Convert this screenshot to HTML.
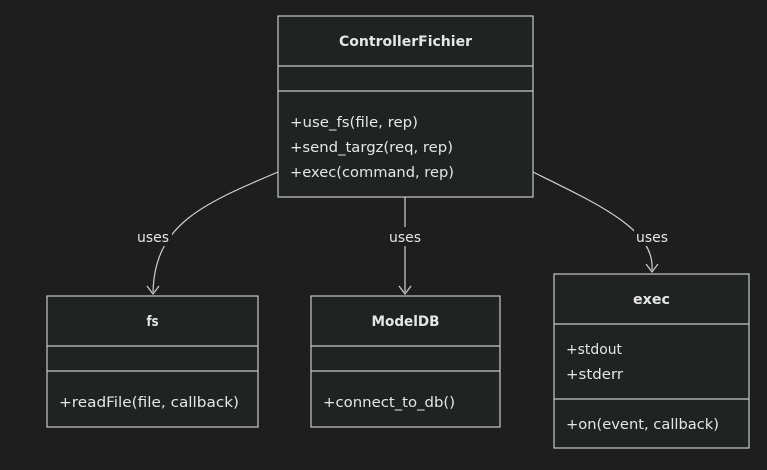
<!DOCTYPE html>
<html><head><style>
html,body{margin:0;padding:0;background:#1e1e1e;}
svg{display:block;}
text{font-family:"DejaVu Sans","Liberation Sans",sans-serif;font-size:14px;fill:#e6e6e6;}
.t{font-weight:bold;text-anchor:middle;}
.b{fill:#212222;stroke:#c8c8c8;stroke-width:1.2;}
.l{stroke:#c8c8c8;stroke-width:1.2;}
.e{fill:none;stroke:#d0d0d0;stroke-width:1.2;}
.lb{fill:#1e1e1e;}
</style></head><body>
<svg width="767" height="470" viewBox="0 0 767 470">
<rect width="767" height="470" fill="#1e1e1e"/>
<path class="e" d="M278,172 C200,205 155,225 153,292"/>
<path class="e" d="M147,286 L153,294 L159,286"/>
<path class="e" d="M405,197 L405,292"/>
<path class="e" d="M399,286 L405,294 L411,286"/>
<path class="e" d="M533,172 C600,205 655,230 652,270"/>
<path class="e" d="M646,264 L652,272 L658,264"/>
<rect class="lb" x="135" y="227" width="37" height="19"/>
<text x="137" y="242" textLength="32" lengthAdjust="spacingAndGlyphs">uses</text>
<rect class="lb" x="387" y="227" width="37" height="19"/>
<text x="389" y="242" textLength="32" lengthAdjust="spacingAndGlyphs">uses</text>
<rect class="lb" x="634" y="227" width="37" height="19"/>
<text x="636" y="242" textLength="32" lengthAdjust="spacingAndGlyphs">uses</text>
<rect class="b" x="278" y="16" width="255" height="181"/>
<line class="l" x1="278" y1="66" x2="533" y2="66"/>
<line class="l" x1="278" y1="91" x2="533" y2="91"/>
<text class="t" x="405.5" y="46" textLength="133" lengthAdjust="spacingAndGlyphs">ControllerFichier</text>
<text x="290" y="127" textLength="128" lengthAdjust="spacingAndGlyphs">+use_fs(file, rep)</text>
<text x="290" y="152" textLength="163" lengthAdjust="spacingAndGlyphs">+send_targz(req, rep)</text>
<text x="290" y="177" textLength="164" lengthAdjust="spacingAndGlyphs">+exec(command, rep)</text>
<rect class="b" x="47" y="296" width="211" height="131"/>
<line class="l" x1="47" y1="346" x2="258" y2="346"/>
<line class="l" x1="47" y1="371" x2="258" y2="371"/>
<text class="t" x="152.5" y="326" textLength="12" lengthAdjust="spacingAndGlyphs">fs</text>
<text x="59" y="407" textLength="180" lengthAdjust="spacingAndGlyphs">+readFile(file, callback)</text>
<rect class="b" x="311" y="296" width="189" height="131"/>
<line class="l" x1="311" y1="346" x2="500" y2="346"/>
<line class="l" x1="311" y1="371" x2="500" y2="371"/>
<text class="t" x="405.5" y="326" textLength="68" lengthAdjust="spacingAndGlyphs">ModelDB</text>
<text x="323" y="407" textLength="132" lengthAdjust="spacingAndGlyphs">+connect_to_db()</text>
<rect class="b" x="554" y="274" width="195" height="174"/>
<line class="l" x1="554" y1="324" x2="749" y2="324"/>
<line class="l" x1="554" y1="399" x2="749" y2="399"/>
<text class="t" x="651.5" y="304" textLength="37" lengthAdjust="spacingAndGlyphs">exec</text>
<text x="566" y="354" textLength="56" lengthAdjust="spacingAndGlyphs">+stdout</text>
<text x="566" y="379" textLength="57" lengthAdjust="spacingAndGlyphs">+stderr</text>
<text x="566" y="429" textLength="153" lengthAdjust="spacingAndGlyphs">+on(event, callback)</text>
</svg>
</body></html>
